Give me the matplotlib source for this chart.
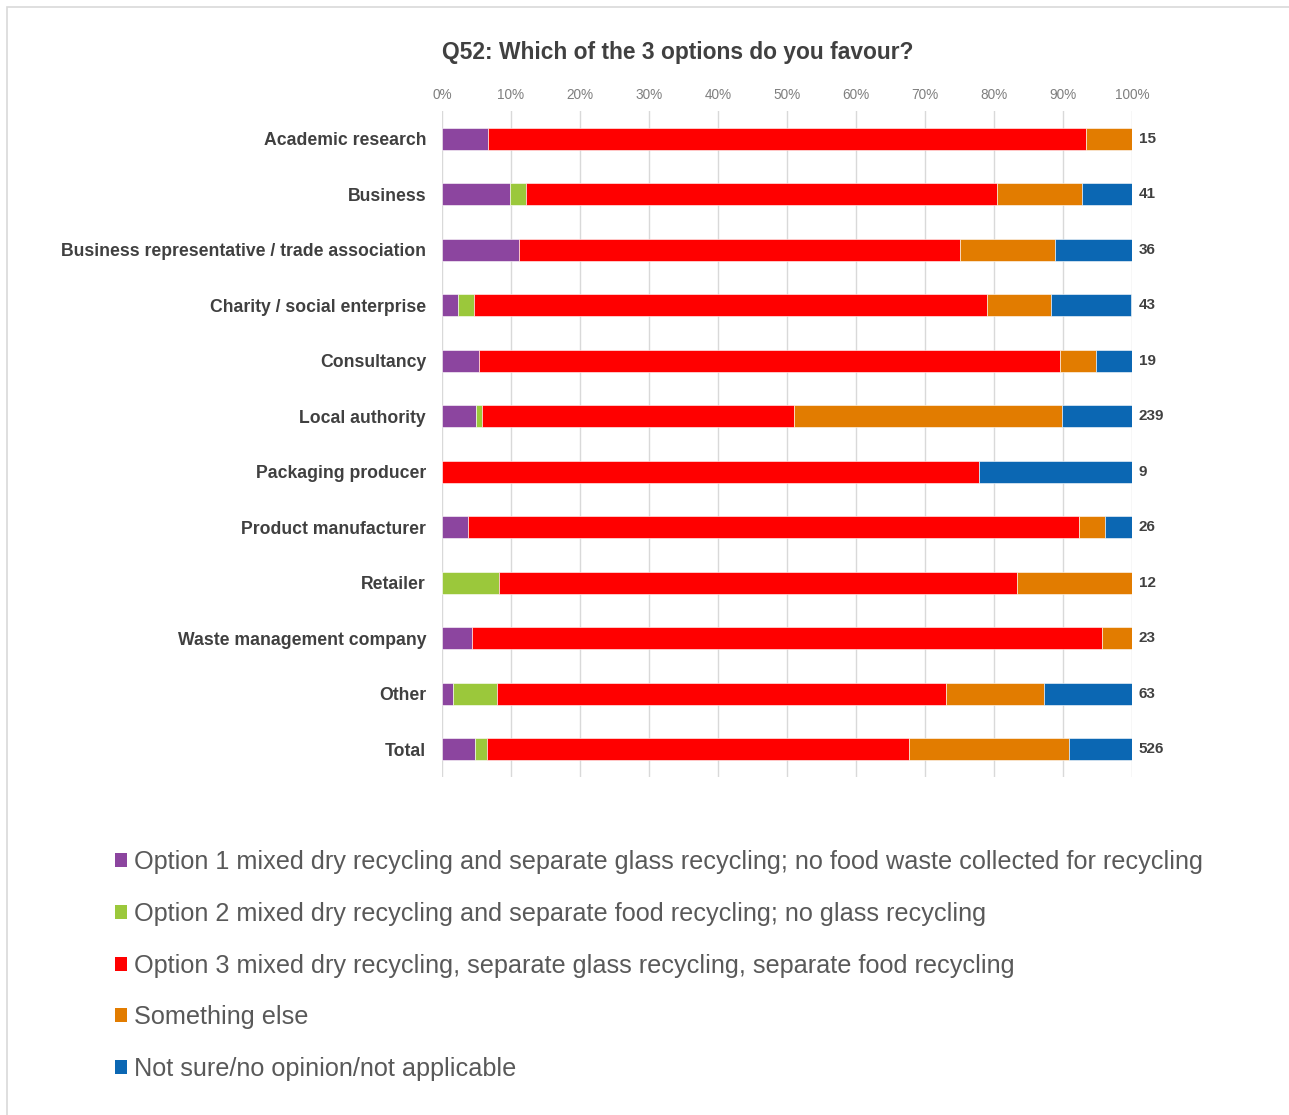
import matplotlib
matplotlib.use("Agg")
import matplotlib.pyplot as plt
from matplotlib.patches import Rectangle, Patch
import numpy as np

plt.rcParams['font.family'] = ['Liberation Sans', 'DejaVu Sans']

categories = [
    "Academic research",
    "Business",
    "Business representative / trade association",
    "Charity / social enterprise",
    "Consultancy",
    "Local authority",
    "Packaging producer",
    "Product manufacturer",
    "Retailer",
    "Waste management company",
    "Other",
    "Total",
]
respondents = [15, 41, 36, 43, 19, 239, 9, 26, 12, 23, 63, 526]

# Share of respondents (%) per answer
option1 = [6.7, 9.8, 11.1, 2.3, 5.3, 4.9, 0.0, 3.8, 0.0, 4.3, 1.6, 4.8]
option2 = [0.0, 2.4, 0.0, 2.3, 0.0, 0.9, 0.0, 0.0, 8.3, 0.0, 6.3, 1.7]
option3 = [86.7, 68.3, 63.9, 74.4, 84.2, 45.2, 77.8, 88.5, 75.0, 91.3, 65.1, 61.2]
something_else = [6.6, 12.2, 13.9, 9.3, 5.3, 38.8, 0.0, 3.8, 16.7, 4.4, 14.3, 23.2]
not_sure = [0.0, 7.3, 11.1, 11.6, 5.3, 10.2, 22.2, 3.9, 0.0, 0.0, 12.7, 9.1]

series_labels = [
    "Option 1 mixed dry recycling and separate glass recycling; no food waste collected for recycling",
    "Option 2 mixed dry recycling and separate food recycling; no glass recycling",
    "Option 3 mixed dry recycling, separate glass recycling, separate food recycling",
    "Something else",
    "Not sure/no opinion/not applicable",
]
series_colors = ["#8C459F", "#9BC83B", "#FF0000", "#E27C00", "#0B67B3"]
tick_values = list(range(0, 101, 10))
tick_labels = [f"{v}%" for v in tick_values]

W, H = 1289, 1115
fig = plt.figure(figsize=(W / 100, H / 100), dpi=100)
fig.patch.set_facecolor("white")

# light frame around the chart area
fig.patches.append(Rectangle((7 / W, -0.05), 1.2, 1 - 7 / H + 0.05,
                             transform=fig.transFigure, fill=False,
                             edgecolor="#D9D9D9", linewidth=1.2))

ax = fig.add_axes([442 / W, 1 - 777 / H, 690 / W, 666 / H])
y = np.arange(len(categories))
left = np.zeros(len(categories))
all_series = [option1, option2, option3, something_else, not_sure]
for vals, col in zip(all_series, series_colors):
    vals = np.array(vals)
    ax.barh(y, vals, left=left, height=0.4, color=col, edgecolor="white",
            linewidth=0.4, zorder=3)
    left += vals

ax.set_xlim(0, 100)
ax.set_ylim(len(categories) - 0.5, -0.5)
ax.xaxis.tick_top()
ax.set_xticks(tick_values)
ax.set_xticklabels(tick_labels, fontsize=9.8, color="#7F7F7F")
ax.tick_params(axis="x", length=0, pad=6.5)
ax.set_yticks(y)
ax.set_yticklabels(categories, fontsize=12.7, fontweight="bold", color="#404040")
ax.tick_params(axis="y", length=0, pad=11.5)
ax.grid(axis="x", color="#D9D9D9", linewidth=1, zorder=0)
for s in ax.spines.values():
    s.set_visible(False)

for yi, n in zip(y, respondents):
    ax.text(101, yi, str(n), va="center", ha="left", fontsize=11,
            fontweight="bold", color="#404040")

fig.text(678 / W, 1 - 52 / H, "Q52: Which of the 3 options do you favour?",
         ha="center", va="center", fontsize=16.4, fontweight="bold", color="#404040")

handles = [Patch(facecolor=c, edgecolor="none") for c in series_colors]
fig.legend(handles, series_labels, loc="upper left",
           bbox_to_anchor=(115 / W, 1 - 850 / H), frameon=False,
           fontsize=18.2, labelcolor="#595959", handlelength=0.47,
           handleheight=0.47, handletextpad=0.28, labelspacing=1.1,
           borderpad=0, borderaxespad=0)

fig.savefig("out.png", dpi=100, facecolor="white")
